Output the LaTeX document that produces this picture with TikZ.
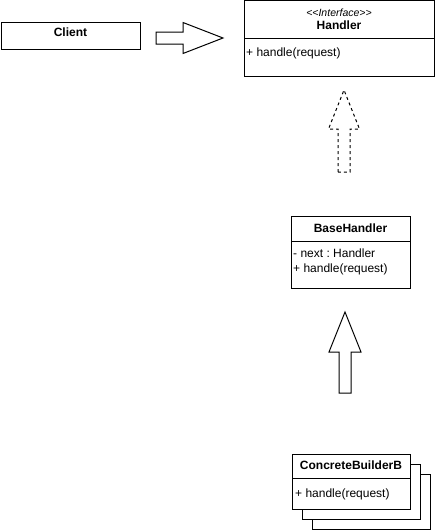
\documentclass[tikz,border=0pt]{standalone}
\usepackage{fontspec}
\setmainfont{Liberation Sans}
\usetikzlibrary{calc}
\frenchspacing
\begin{document}
\frenchspacing
\begin{tikzpicture}[x=1pt,y=-1pt,
  box/.style={draw=black, line width=1pt, fill=white, inner sep=0pt, outer sep=0pt},
  txt/.style={inner sep=0pt, font=\fontsize{12}{14}\selectfont},
  ttl/.style={txt, font=\fontsize{12}{14}\selectfont\bfseries},
  stereo/.style={inner sep=0pt, font=\fontsize{10.5}{12}\selectfont\itshape},
  blockarrow/.style={draw=black, line width=1pt, fill=white, line join=miter},
  dashedarrow/.style={blockarrow, dash pattern=on 3pt off 3pt}]
\useasboundingbox (0,0) rectangle (435,530);

% Client
\node[box, minimum width=139pt, minimum height=27pt] (client) at (70.5,35.5) {};
\node[ttl, anchor=base] (clientT) at (70.5,36.5) {Client};

% Handler
\node[box, minimum width=190pt, minimum height=37.5pt] (hTop) at (339,19.25) {};
\node[box, minimum width=190pt, minimum height=38pt, anchor=north] (hBody) at (hTop.south) {};
\node[stereo, anchor=base] (hS) at (339,16.5) {{<}{<}Interface{>}{>}};
\node[ttl, anchor=base] (hT) at (339,29.3) {Handler};
\node[txt, anchor=base west] (hM) at ($(hBody.north west)+(2,18)$) {+ handle(request)};

% BaseHandler
\node[box, minimum width=119pt, minimum height=25pt] (bTop) at (350.5,228.5) {};
\node[box, minimum width=119pt, minimum height=47pt, anchor=north] (bBody) at (bTop.south) {};
\node[ttl, anchor=base] (bT) at (350.5,232.5) {BaseHandler};
\node[txt, anchor=base west] (bA) at ($(bBody.north west)+(2,16)$) {- next : Handler};
\node[txt, anchor=base west] (bM) at ($(bBody.north west)+(2,31)$) {+ handle(request)};

% ConcreteBuilderB (stacked)
\node[box, minimum width=118pt, minimum height=55pt] (cBack2) at (371,501.5) {};
\node[box, minimum width=118pt, minimum height=55pt] (cBack1) at (361,491.5) {};
\node[box, minimum width=118pt, minimum height=24pt] (cTop) at (351,466) {};
\node[box, minimum width=118pt, minimum height=31pt, anchor=north] (cBody) at (cTop.south) {};
\node[ttl, anchor=base] (cT) at (351,469) {ConcreteBuilderB};
\node[txt, anchor=base west] (cM) at ($(cBody.north west)+(3,19)$) {+ handle(request)};

% Arrow Client -> Handler
\coordinate (a1s) at ($(client.east)+(16,2.5)$);
\coordinate (a1t) at ($(hTop.south west)+(-21,0)$);
\draw[blockarrow] ($(a1s)+(0,-6)$) -- ($(a1s)+(27,-6)$) -- ($(a1s)+(27,-15.5)$)
  -- (a1t) -- ($(a1s)+(27,15.5)$) -- ($(a1s)+(27,6)$) -- ($(a1s)+(0,6)$) -- cycle;

% Dashed arrow BaseHandler -> Handler
\coordinate (a2s) at (344,172);
\coordinate (a2t) at (344,90);
\draw[dashedarrow] ($(a2s)+(-6,0)$) -- ($(a2s)+(-6,-43)$) -- ($(a2s)+(-15.5,-43)$)
  -- (a2t) -- ($(a2s)+(15.5,-43)$) -- ($(a2s)+(6,-43)$) -- ($(a2s)+(6,0)$) -- cycle;

% Arrow ConcreteBuilderB -> BaseHandler
\coordinate (a3s) at (345,393);
\coordinate (a3t) at (345,312);
\draw[blockarrow] ($(a3s)+(-6,0)$) -- ($(a3s)+(-6,-41)$) -- ($(a3s)+(-16,-41)$)
  -- (a3t) -- ($(a3s)+(16,-41)$) -- ($(a3s)+(6,-41)$) -- ($(a3s)+(6,0)$) -- cycle;
\end{tikzpicture}
\end{document}
